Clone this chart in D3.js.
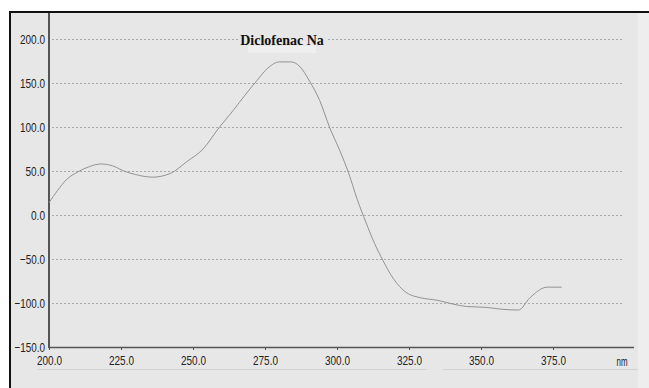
<!DOCTYPE html>
<html><head><meta charset="utf-8">
<script src="https://cdn.jsdelivr.net/npm/d3@7"></script>
<style>html,body{margin:0;padding:0;background:#fff;}svg{display:block;}</style>
</head><body>
<svg id="c" width="649" height="388"></svg>
<script>
const wavelengths = [200, 203, 206, 210, 214, 218, 222, 226, 230, 236, 242, 248, 253.5, 259, 264, 268, 272, 276, 280, 284, 287, 290.5, 294, 297.5, 301, 304, 307, 310, 313, 316, 319.5, 324, 329, 335, 340, 345, 352, 357, 363, 367, 373, 378];
const signal      = [14, 28, 40, 49, 55, 58, 56, 50, 46, 43, 47, 61, 75, 99, 119, 136, 152, 167, 174, 174, 169, 152, 130, 99, 73, 48, 18, -8, -32, -52, -72, -88, -94, -97, -101, -104, -105, -107, -108, -94, -82, -82];
const xTicks = [200, 225, 250, 275, 300, 325, 350, 375];
const yTicks = [-150, -100, -50, 0, 50, 100, 150, 200];
const title = "Diclofenac Na";
const xUnit = "nm";

const svg = d3.select("#c");
const x = d3.scaleLinear().domain([200, 375]).range([49, 553]);
const y = d3.scaleLinear().domain([-150, 200]).range([347, 39]);
const fmt = d3.format(".1f");
const LABEL_FONT = "'Liberation Sans', Arial, sans-serif";
// condensed look: compress glyphs via textLength
const labelWidth = s => [...s].reduce((w, c) => w + (c === "." ? 3 : c === "-" ? 3 : 5.5), 0);

// backgrounds
svg.append("rect").attr("x", 0).attr("y", 0).attr("width", 649).attr("height", 388).attr("fill", "#ffffff");
svg.append("rect").attr("x", 10).attr("y", 12).attr("width", 639).attr("height", 376).attr("fill", "#e7e7e7");
svg.append("rect").attr("x", 638).attr("y", 13).attr("width", 11).attr("height", 375).attr("fill", "#eeeeee");
// frame
svg.append("line").attr("x1", 9).attr("x2", 649).attr("y1", 12).attr("y2", 12).attr("stroke", "#111").attr("stroke-width", 2);
svg.append("line").attr("x1", 10).attr("x2", 10).attr("y1", 11).attr("y2", 388).attr("stroke", "#111").attr("stroke-width", 2);

// gridlines
svg.append("g").selectAll("line").data(yTicks.filter(d => d > -150)).join("line")
  .attr("x1", 52).attr("x2", 623)
  .attr("y1", d => Math.round(y(d)) + 0.5).attr("y2", d => Math.round(y(d)) + 0.5)
  .attr("stroke", "#a8a8a8").attr("stroke-width", 1).attr("stroke-dasharray", "2,2");

// title
svg.append("rect").attr("x", 239).attr("y", 31).attr("width", 87).attr("height", 15).attr("fill", "#e7e7e7");
svg.append("rect").attr("x", 248).attr("y", 46).attr("width", 68).attr("height", 7).attr("fill", "#efefef");
svg.append("text").attr("x", 282).attr("y", 45).attr("text-anchor", "middle")
  .attr("font-family", "'Liberation Serif', 'Times New Roman', serif").attr("font-weight", "bold")
  .attr("font-size", 14).attr("fill", "#111").text(title);

// y axis
const yAxis = d3.axisLeft(y).tickValues(yTicks).tickFormat(fmt).tickSize(0).tickPadding(4);
const gy = svg.append("g").attr("transform", "translate(49,0)").call(yAxis);
gy.select(".domain").remove();
gy.selectAll("text").attr("font-family", LABEL_FONT).attr("font-size", 13.5).attr("fill", "#222")
  .attr("textLength", d => labelWidth(fmt(d))).attr("lengthAdjust", "spacingAndGlyphs");
svg.append("line").attr("x1", 49).attr("x2", 49).attr("y1", 13).attr("y2", 348).attr("stroke", "#555").attr("stroke-width", 2);

// x axis
const xAxis = d3.axisBottom(x).tickValues(xTicks).tickFormat(fmt).tickSize(3).tickPadding(5);
const gx = svg.append("g").attr("transform", "translate(0,347)").call(xAxis);
gx.select(".domain").remove();
gx.selectAll("line").attr("stroke", "#555");
gx.selectAll("text").attr("font-family", LABEL_FONT).attr("font-size", 13.5).attr("fill", "#222")
  .attr("textLength", d => labelWidth(fmt(d))).attr("lengthAdjust", "spacingAndGlyphs");
svg.append("line").attr("x1", 48).attr("x2", 634).attr("y1", 347.5).attr("y2", 347.5).attr("stroke", "#555").attr("stroke-width", 1.5);
svg.append("text").attr("x", 622).attr("y", 366).attr("text-anchor", "middle")
  .attr("font-family", LABEL_FONT).attr("font-size", 12).attr("fill", "#222")
  .attr("textLength", 11).attr("lengthAdjust", "spacingAndGlyphs").text(xUnit);
// faint line below labels
svg.append("line").attr("x1", 38).attr("x2", 427).attr("y1", 369.5).attr("y2", 369.5).attr("stroke", "#d2d2d2");
svg.append("line").attr("x1", 443).attr("x2", 638).attr("y1", 369.5).attr("y2", 369.5).attr("stroke", "#d2d2d2");

// curve
const line = d3.line().x((d, i) => x(wavelengths[i])).y(d => y(d)).curve(d3.curveMonotoneX);
svg.append("path").datum(signal).attr("d", line).attr("fill", "none").attr("stroke", "#939393").attr("stroke-width", 1);
</script>
</body></html>
